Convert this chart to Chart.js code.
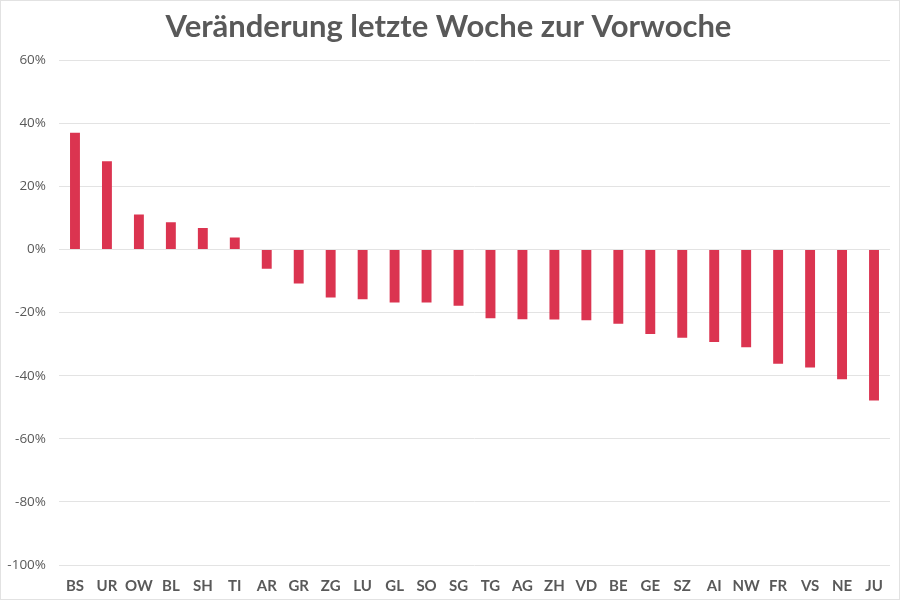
<!DOCTYPE html>
<html>
<head>
<meta charset="utf-8">
<script src="https://cdn.jsdelivr.net/npm/chart.js@4"></script>
<style>
  html, body { margin: 0; padding: 0; background: #fff; }
  #wrap { width: 898px; height: 598px; border: 1px solid #e2e2e2; }
</style>
</head>
<body>
<div id="wrap"><canvas id="myChart" width="898" height="598"></canvas></div>
<script>
const cantons = ["BS", "UR", "OW", "BL", "SH", "TI", "AR", "GR", "ZG", "LU", "GL", "SO", "SG",
    "TG", "AG", "ZH", "VD", "BE", "GE", "SZ", "AI", "NW", "FR", "VS", "NE", "JU"],
    changes = [37.0, 28.0, 11.1, 8.6, 6.8, 3.8, -6.1, -10.8, -15.2, -15.8, -16.8, -16.8, -17.8,
    -21.8, -22.1, -22.2, -22.4, -23.5, -26.8, -28.0, -29.3, -31.0, -36.2, -37.4, -41.1, -47.9],
    yMin = -100,
    yMax = 60,
    yStep = 20

const ctx = document.getElementById('myChart').getContext('2d')
new Chart(ctx, {
    type: 'bar',
    data: {
        labels: cantons,
        datasets: [{
            label: 'Veränderung',
            data: changes,
            backgroundColor: '#db3450',
            barPercentage: 0.62,
            categoryPercentage: 0.5
        }]
    },
    options: {
        responsive: false,
        animation: false,
        layout: { padding: { left: 6, right: 9, top: 0, bottom: 1 } },
        plugins: {
            legend: { display: false },
            tooltip: { enabled: false },
            title: {
                display: true,
                text: 'Veränderung letzte Woche zur Vorwoche',
                color: '#595959',
                font: { family: 'Lato', size: 31, weight: 'bold' },
                padding: { top: 7, bottom: 15 }
            }
        },
        scales: {
            x: {
                grid: { display: false },
                border: { display: false },
                afterFit: axis => { axis.height = 33 },
                ticks: {
                    color: '#595959',
                    font: { family: 'Lato', size: 15, weight: 'bold' },
                    maxRotation: 0,
                    autoSkip: false,
                    padding: 4
                }
            },
            y: {
                min: yMin,
                max: yMax,
                grid: { color: '#e3e3e3', drawTicks: false },
                border: { display: false },
                afterFit: axis => { axis.width = 52 },
                ticks: {
                    stepSize: yStep,
                    color: '#595959',
                    font: { family: 'Open Sans', size: 13.5 },
                    padding: 13,
                    callback: v => v + '%'
                }
            }
        }
    }
})
</script>
</body>
</html>
